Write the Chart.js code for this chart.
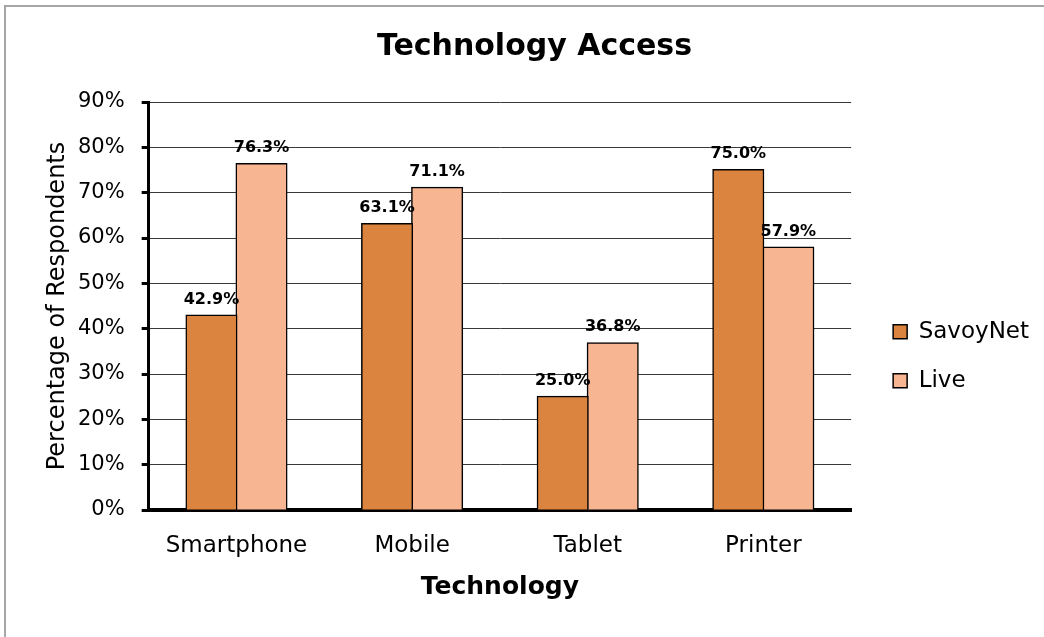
<!DOCTYPE html>
<html>
<head>
<meta charset="utf-8">
<title>Technology Access</title>
<script src="https://cdn.jsdelivr.net/npm/chart.js@4/dist/chart.umd.min.js"></script>
<style>
  html, body { margin: 0; padding: 0; background: #fff; }
  #wrap { position: relative; width: 1044px; height: 637px; }
  #frame { position: absolute; left: 4px; top: 5px; right: 0; bottom: 0;
           border-top: 2px solid #a6a6a6; border-left: 2px solid #a6a6a6; pointer-events: none; }
</style>
</head>
<body>
<div id="wrap">
  <canvas id="grafico" width="1044" height="637"></canvas>
  <div id="frame"></div>
</div>
<script>
var categorias = ['Smartphone', 'Mobile', 'Tablet', 'Printer'];
var savoyNet = [42.9, 63.1, 25.0, 75.0];
var live = [76.3, 71.1, 36.8, 57.9];
var ticksY = [0, 10, 20, 30, 40, 50, 60, 70, 80, 90];

var fuente = '"DejaVu Sans", Verdana, sans-serif';

// etiquetas de valor encima de cada barra
var etiquetas = {
    id: 'etiquetas',
    afterDatasetsDraw: function(chart) {
        var ctx = chart.ctx;
        ctx.save();
        ctx.font = 'bold 16px ' + fuente;
        ctx.fillStyle = '#000';
        ctx.textAlign = 'center';
        ctx.textBaseline = 'middle';
        chart.data.datasets.forEach(function(ds, d) {
            chart.getDatasetMeta(d).data.forEach(function(bar, i) {
                ctx.fillText(ds.data[i].toFixed(1) + '%', bar.x, bar.y - 16);
            });
        });
        ctx.restore();
    }
};

// separa la leyenda del area del grafico
var separarLeyenda = {
    id: 'separarLeyenda',
    afterLayout: function(chart) {
        if (chart.legend) {
            chart.legend.left += 16;
            chart.legend.right += 16;
        }
    }
};

new Chart(document.getElementById('grafico').getContext('2d'), {
    type: 'bar',
    data: {
        labels: categorias,
        datasets: [{
            label: 'SavoyNet',
            data: savoyNet,
            backgroundColor: '#db843f',
            borderColor: '#000',
            borderWidth: 1.5,
            inflateAmount: 1
        }, {
            label: 'Live',
            data: live,
            backgroundColor: '#f8b591',
            borderColor: '#000',
            borderWidth: 1.5,
            inflateAmount: 1
        }]
    },
    options: {
        responsive: false,
        animation: false,
        layout: { padding: { left: 46, right: 21, top: 0, bottom: 37 } },
        datasets: { bar: { categoryPercentage: 0.57, barPercentage: 1 } },
        scales: {
            x: {
                grid: { display: false },
                border: { display: true, color: '#000', width: 4 },
                ticks: { color: '#000', font: { family: fuente, size: 23, lineHeight: 1 }, padding: 17 },
                title: {
                    display: true,
                    text: 'Technology',
                    color: '#000',
                    font: { family: fuente, size: 25, weight: 'bold', lineHeight: 1 },
                    padding: { top: 0, bottom: 0 }
                }
            },
            y: {
                min: 0,
                max: 90,
                afterBuildTicks: function(axis) {
                    axis.ticks = ticksY.map(function(v) { return { value: v }; });
                },
                grid: { color: '#3a3a3a', lineWidth: 1, tickLength: 7, tickColor: '#000', tickWidth: 3 },
                border: { display: true, color: '#000', width: 3 },
                ticks: {
                    color: '#000',
                    font: { family: fuente, size: 21 },
                    padding: 17,
                    callback: function(v) { return v + '%'; }
                },
                title: {
                    display: true,
                    text: 'Percentage of Respondents',
                    color: '#000',
                    font: { family: fuente, size: 24, lineHeight: 1 },
                    padding: { top: 0, bottom: -9 }
                }
            }
        },
        plugins: {
            title: {
                display: true,
                text: 'Technology Access',
                color: '#000',
                font: { family: fuente, size: 30, weight: 'bold' },
                padding: { top: 29, bottom: 37 }
            },
            legend: {
                position: 'right',
                title: { display: true, text: '', font: { size: 12 }, padding: { top: 98, bottom: 0 } },
                labels: {
                    color: '#000',
                    font: { family: fuente, size: 23 },
                    boxWidth: 14,
                    boxHeight: 14,
                    padding: 26
                }
            },
            tooltip: { enabled: false }
        }
    },
    plugins: [etiquetas, separarLeyenda]
});
</script>
</body>
</html>
